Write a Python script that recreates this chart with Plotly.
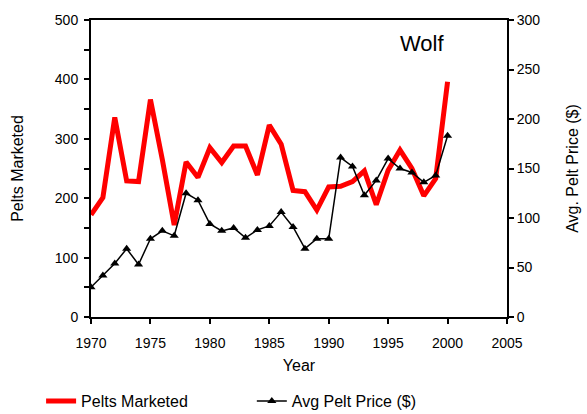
import plotly.graph_objects as go
from plotly.subplots import make_subplots

# --- DATA ---
years = list(range(1970, 2001))
pelts_marketed = [172, 201, 336, 229, 228, 366, 265, 155, 261, 235,
                  285, 260, 288, 288, 239, 323, 291, 213, 211, 180,
                  219, 220, 228, 246, 189, 247, 281, 250, 204, 233, 396]
avg_pelt_price = [30, 42, 54, 69, 53, 79, 87, 82, 125, 118,
                  94, 87, 90, 80, 88, 92, 106, 91, 69, 79,
                  79, 161, 152, 123, 138, 160, 150, 146, 136, 143, 183]

FONT = "Liberation Sans, Arial, sans-serif"

fig = make_subplots(specs=[[{"secondary_y": True}]])

# Pelts marketed (left axis)
fig.add_trace(go.Scatter(x=years, y=pelts_marketed, mode="lines",
                         line=dict(color="#ff0000", width=5),
                         name="Pelts Marketed", legend="legend"), secondary_y=False)

# Average price (right axis)
fig.add_trace(go.Scatter(x=years, y=avg_pelt_price, mode="lines+markers",
                         line=dict(color="black", width=1.5),
                         marker=dict(symbol="triangle-up", size=8, color="black"),
                         name="Avg Pelt Price ($)", legend="legend2"), secondary_y=True)

legend_style = dict(orientation="h", yanchor="middle", xanchor="left",
                    yref="container", xref="container", font=dict(size=16),
                    itemwidth=30, bgcolor="rgba(0,0,0,0)")

fig.update_layout(
    width=587, height=414,
    margin=dict(l=91, r=80, t=20, b=97),
    paper_bgcolor="white", plot_bgcolor="white",
    font=dict(family=FONT, size=14, color="black"),
    showlegend=True,
    legend=dict(x=0.070, y=0.031, **legend_style),
    legend2=dict(x=0.429, y=0.031, **legend_style),
    annotations=[dict(text="Wolf", x=1999.9, y=461, xref="x", yref="y",
                      showarrow=False, font=dict(size=22),
                      xanchor="right", yanchor="middle")],
)

fig.update_xaxes(range=[1970, 2005], dtick=5, tick0=1970, domain=[0, 1], automargin=False,
                 showline=True, linecolor="black", linewidth=2, mirror=True,
                 ticks="outside", ticklen=5, tickwidth=2, tickcolor="black",
                 ticklabelstandoff=7,
                 showgrid=False, zeroline=False,
                 title=dict(text="Year", font=dict(size=16), standoff=10))

fig.update_yaxes(range=[0, 500], dtick=100, secondary_y=False, automargin=False,
                 showline=True, linecolor="black", linewidth=2,
                 ticks="outside", ticklen=5, tickwidth=2, tickcolor="black",
                 ticklabelstandoff=3,
                 minor=dict(dtick=50, ticks="outside", ticklen=5, tickwidth=2, tickcolor="black"),
                 showgrid=False, zeroline=False,
                 title=dict(text="Pelts Marketed", font=dict(size=16), standoff=27))

fig.update_yaxes(range=[0, 300], dtick=50, secondary_y=True, automargin=False,
                 showline=True, linecolor="black", linewidth=2,
                 ticks="outside", ticklen=5, tickwidth=2, tickcolor="black",
                 showgrid=False, zeroline=False,
                 title=dict(text="Avg. Pelt Price ($)", font=dict(size=16), standoff=27))

# drop the default page margin so the figure sits at the window's corner
fig.write_html("out.html", config={"displayModeBar": False},
               post_script="document.body.style.margin='0';")
